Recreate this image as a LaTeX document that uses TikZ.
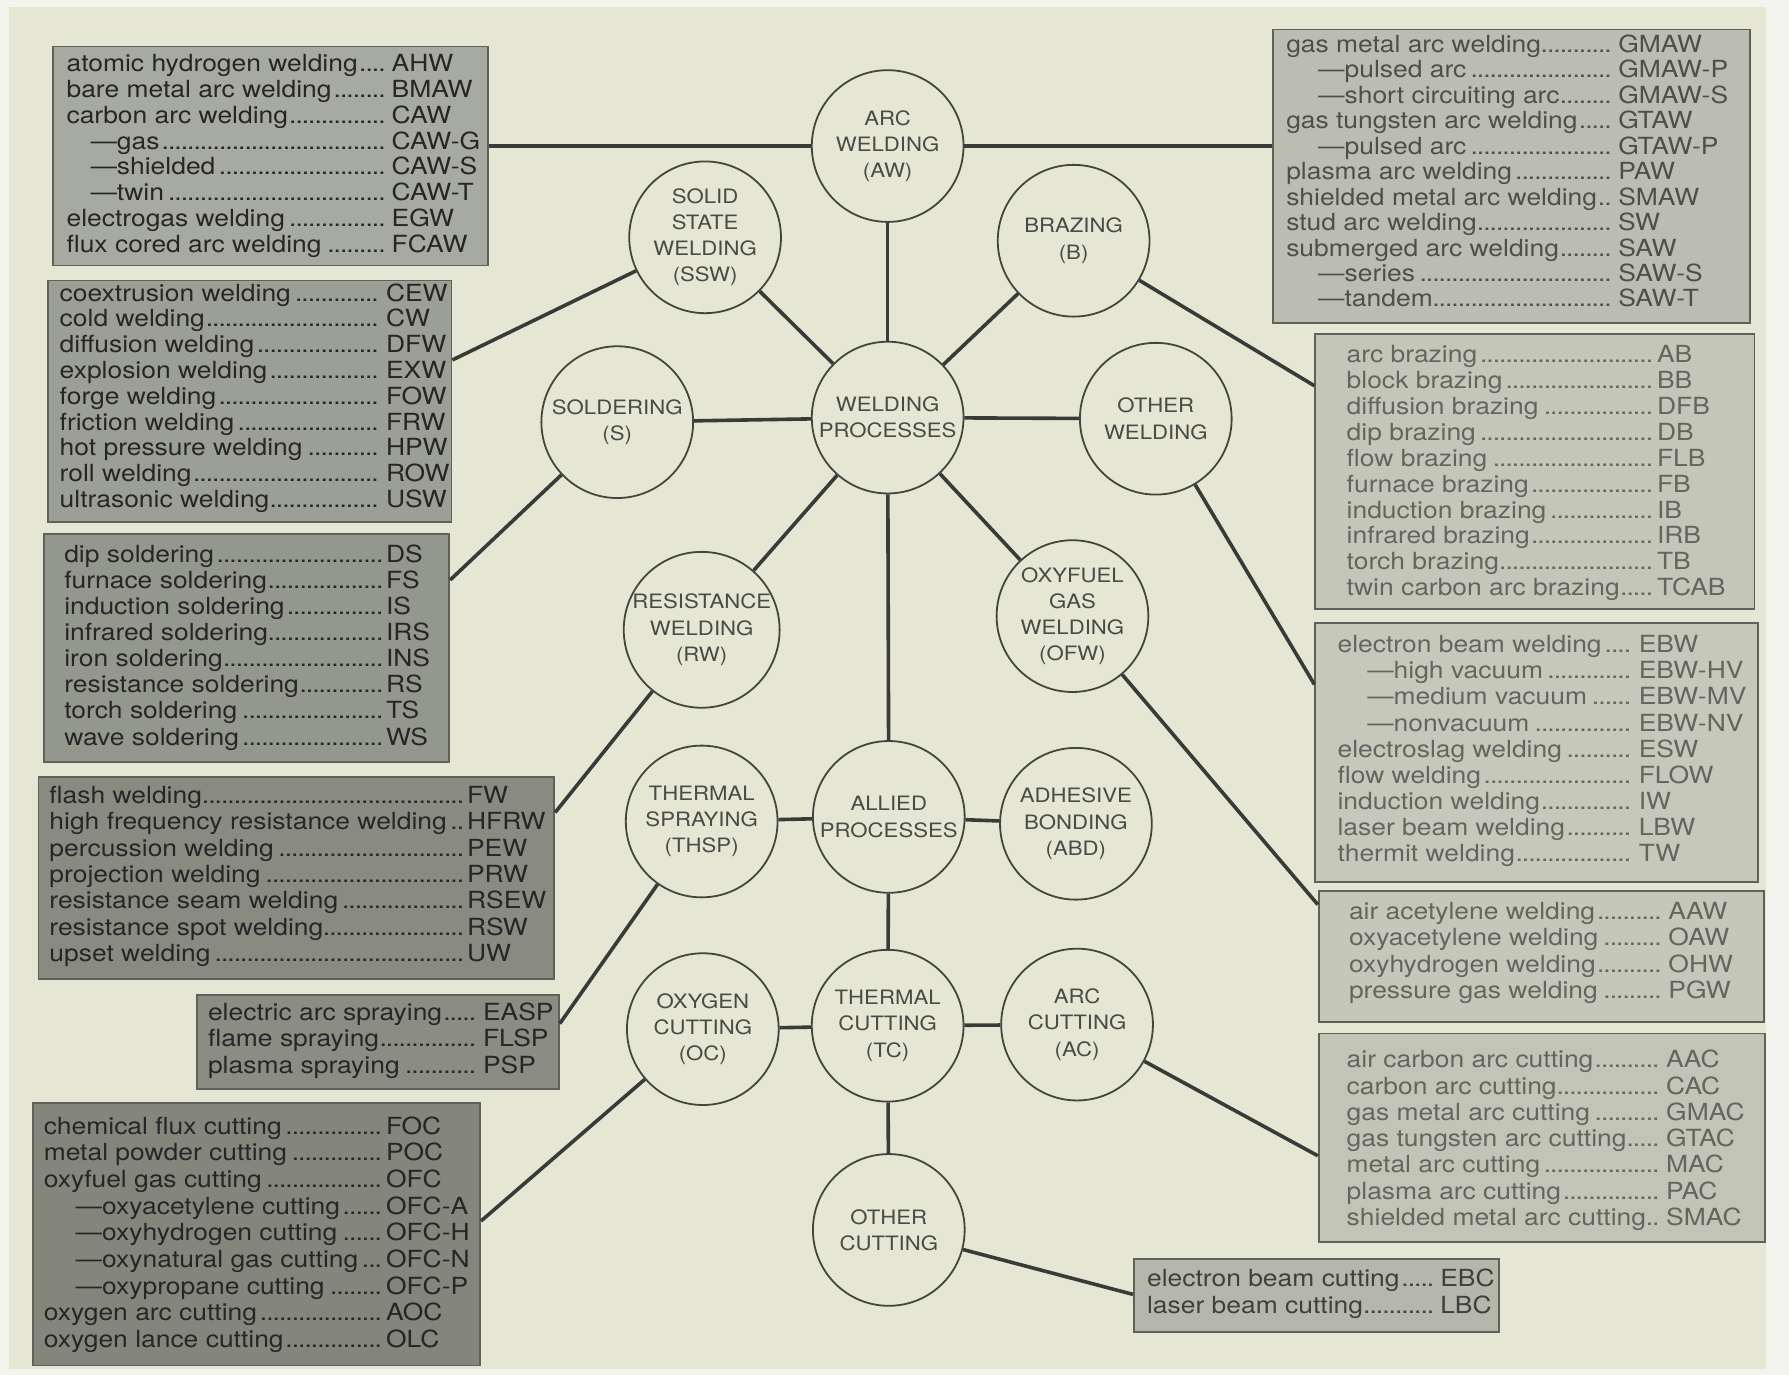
\documentclass[tikz,border=0pt]{standalone}
\usepackage{fontspec}
\setmainfont{TeX Gyre Heros}[FakeStretch=1.12]
\usetikzlibrary{calc}
\newlength\unitlen \setlength\unitlen{0.57047pt}
\newlength\entrywd
\newlength\indlen
\definecolor{outerc}{HTML}{F3F4EE}
\definecolor{pagec}{HTML}{E5E7D4}
\definecolor{linkc}{HTML}{3A3A38}
\definecolor{circline}{HTML}{45453F}
\definecolor{circtext}{HTML}{4A4A46}
\definecolor{boxline}{HTML}{5F615A}
\definecolor{fawl}{HTML}{A7AAA0}
\definecolor{fssb}{HTML}{9C9F95}
\definecolor{fsolb}{HTML}{94978C}
\definecolor{frwb}{HTML}{898B81}
\definecolor{fthb}{HTML}{8B8D83}
\definecolor{focb}{HTML}{84867B}
\definecolor{fawr}{HTML}{BBBDB0}
\definecolor{fbrb}{HTML}{C4C6B8}
\definecolor{fowb}{HTML}{C6C8BA}
\definecolor{fofb}{HTML}{C5C7B8}
\definecolor{facb}{HTML}{C2C4B5}
\definecolor{foctb}{HTML}{B5B7AA}
\definecolor{tdark}{HTML}{262626}
\definecolor{tawr}{HTML}{4E4F4A}
\definecolor{tlight}{HTML}{64655F}
\definecolor{toctb}{HTML}{3F403C}
\newcommand\mydots{\leaders\hbox to 0.27em{\hss.\hss}\hfill}
\newcommand\ind{\hspace*{\indlen}---}
\newcommand\rowfont{\fontsize{11.8}{13}\selectfont}
\newcommand\circfont{\fontsize{9.9}{13.1}\selectfont}
\newcommand\boxrows[8]{%
  \pgfmathsetlength{\entrywd}{(#3-#2)*\unitlen}%
  \setlength{\indlen}{#6\unitlen}%
  \foreach \nm/\ab [count=\i from 0] in {#8} {
    \node[row, text=#7] (#1-\i) at ({#2},{#4+6+\i*#5}) {\makebox[\entrywd][l]{\nm\mydots\kern1pt}\ab};
  }%
}
\tikzset{
  circ/.style={circle, draw=circline, line width=0.9pt, minimum size=133\unitlen,
    inner sep=0pt, align=center, text=circtext, font=\circfont},
  infobox/.style={draw=boxline, line width=0.9pt, anchor=north west, inner sep=0pt},
  row/.style={inner sep=0pt, anchor=base west, font=\rowfont},
  link/.style={draw=linkc, line width=1.8pt}
}
\begin{document}
\begin{tikzpicture}[x=\unitlen, y=-\unitlen]
\useasboundingbox (0,0) rectangle (1568,1205);
\fill[outerc] (0,0) rectangle (1568,1205);
\fill[pagec] (8,6) rectangle (1548,1200);

% boxes
\node[infobox, fill=fawl, minimum width=381\unitlen, minimum height=192\unitlen] (awl) at (46,40) {};
\node[infobox, fill=fssb, minimum width=354\unitlen, minimum height=212\unitlen] (ssb) at (41,245) {};
\node[infobox, fill=fsolb, minimum width=355\unitlen, minimum height=200\unitlen] (solb) at (38,467) {};
\node[infobox, fill=frwb, minimum width=452\unitlen, minimum height=177\unitlen] (rwb) at (33,680) {};
\node[infobox, fill=fthb, minimum width=317\unitlen, minimum height=83\unitlen] (thb) at (172,871) {};
\node[infobox, fill=focb, minimum width=392\unitlen, minimum height=230\unitlen] (ocb) at (28,966) {};
\node[infobox, fill=fawr, minimum width=418\unitlen, minimum height=257\unitlen] (awr) at (1115,25) {};
\node[infobox, fill=fbrb, minimum width=385\unitlen, minimum height=241\unitlen] (brb) at (1152,292) {};
\node[infobox, fill=fowb, minimum width=388\unitlen, minimum height=227\unitlen] (owb) at (1152,545) {};
\node[infobox, fill=fofb, minimum width=390\unitlen, minimum height=115\unitlen] (ofb) at (1155,780) {};
\node[infobox, fill=facb, minimum width=391\unitlen, minimum height=183\unitlen] (acb) at (1155,905) {};
\node[infobox, fill=foctb, minimum width=320\unitlen, minimum height=64\unitlen] (octb) at (993,1103) {};

% circles
\node[circ] (aw) at (778,128) {ARC\\WELDING\\(AW)};
\node[circ] (ssw) at (618,208) {SOLID\\STATE\\WELDING\\(SSW)};
\node[circ] (br) at (941,211) {BRAZING\\(B)};
\node[circ] (wp) at (778,366) {WELDING\\PROCESSES};
\node[circ] (sol) at (541,370) {SOLDERING\\(S)};
\node[circ] (ow) at (1013,367) {OTHER\\WELDING};
\node[circ] (rw) at (615,552) {RESISTANCE\\WELDING\\(RW)};
\node[circ] (ofw) at (940,540) {OXYFUEL\\GAS\\WELDING\\(OFW)};
\node[circ] (thsp) at (615,720) {THERMAL\\SPRAYING\\(THSP)};
\node[circ] (ap) at (779,716) {ALLIED\\PROCESSES};
\node[circ] (abd) at (943,722) {ADHESIVE\\BONDING\\(ABD)};
\node[circ] (oc) at (616,902) {OXYGEN\\CUTTING\\(OC)};
\node[circ] (tc) at (778,899) {THERMAL\\CUTTING\\(TC)};
\node[circ] (ac) at (944,898) {ARC\\CUTTING\\(AC)};
\node[circ] (octc) at (779,1078) {OTHER\\CUTTING};

% links between circles
\draw[link] (aw) -- (wp);
\draw[link] (ssw) -- (wp);
\draw[link] (br) -- (wp);
\draw[link] (sol) -- (wp);
\draw[link] (ow) -- (wp);
\draw[link] (rw) -- (wp);
\draw[link] (ofw) -- (wp);
\draw[link] (wp) -- (ap);
\draw[link] (thsp) -- (ap);
\draw[link] (abd) -- (ap);
\draw[link] (ap) -- (tc);
\draw[link] (oc) -- (tc);
\draw[link] (ac) -- (tc);
\draw[link] (tc) -- (octc);

% links to boxes
\draw[link] (awl.east |- aw) -- (aw);
\draw[link] (aw) -- (awr.west |- aw);
\draw[link] ($(ssb.north east)!0.33!(ssb.south east)$) -- (ssw);
\draw[link] ($(solb.north east)!0.205!(solb.south east)$) -- (sol);
\draw[link] ($(rwb.north east)!0.18!(rwb.south east)$) -- (rw);
\draw[link] ($(thb.north east)!0.31!(thb.south east)$) -- (thsp);
\draw[link] ($(ocb.north east)!0.45!(ocb.south east)$) -- (oc);
\draw[link] ($(brb.north west)!0.19!(brb.south west)$) -- (br);
\draw[link] ($(owb.north west)!0.24!(owb.south west)$) -- (ow);
\draw[link] ($(ofb.north west)!0.11!(ofb.south west)$) -- (ofw);
\draw[link] ($(acb.north west)!0.585!(acb.south west)$) -- (ac);
\draw[link] ($(octb.north west)!0.48!(octb.south west)$) -- (octc);

% box texts
\boxrows{awlt}{58}{343}{57}{22.57}{21}{tdark}{atomic hydrogen welding/AHW, bare metal arc welding/BMAW, carbon arc welding/CAW, \ind gas/CAW-G, \ind shielded/CAW-S, \ind twin/CAW-T, electrogas welding/EGW, flux cored arc welding/FCAW}
\boxrows{ssbt}{52}{338}{258}{22.6}{21}{tdark}{coextrusion welding/CEW, cold welding/CW, diffusion welding/DFW, explosion welding/EXW, forge welding/FOW, friction welding/FRW, hot pressure welding/HPW, roll welding/ROW, ultrasonic welding/USW}
\boxrows{solbt}{56}{338}{487}{22.86}{21}{tdark}{dip soldering/DS, furnace soldering/FS, induction soldering/IS, infrared soldering/IRS, iron soldering/INS, resistance soldering/RS, torch soldering/TS, wave soldering/WS}
\boxrows{rwbt}{43}{409}{698}{23.17}{21}{tdark}{flash welding/FW, high frequency resistance welding/HFRW, percussion welding/PEW, projection welding/PRW, resistance seam welding/RSEW, resistance spot welding/RSW, upset welding/UW}
\boxrows{thbt}{182}{423}{888}{23.5}{21}{tdark}{electric arc spraying/EASP, flame spraying/FLSP, plasma spraying/PSP}
\boxrows{ocbt}{38}{338}{988}{23.4}{28}{tdark}{chemical flux cutting/FOC, metal powder cutting/POC, oxyfuel gas cutting/OFC, \ind oxyacetylene cutting/OFC-A, \ind oxyhydrogen cutting/OFC-H, \ind oxynatural gas cutting/OFC-N, \ind oxypropane cutting/OFC-P, oxygen arc cutting/AOC, oxygen lance cutting/OLC}
\boxrows{awrt}{1127}{1418}{40}{22.3}{28}{tawr}{gas metal arc welding/GMAW, \ind pulsed arc/GMAW-P, \ind short circuiting arc/GMAW-S, gas tungsten arc welding/GTAW, \ind pulsed arc/GTAW-P, plasma arc welding/PAW, shielded metal arc welding/SMAW, stud arc welding/SW, submerged arc welding/SAW, \ind series/SAW-S, \ind tandem/SAW-T}
\boxrows{brbt}{1180}{1452}{312}{22.67}{26}{tlight}{arc brazing/AB, block brazing/BB, diffusion brazing/DFB, dip brazing/DB, flow brazing/FLB, furnace brazing/FB, induction brazing/IB, infrared brazing/IRB, torch brazing/TB, twin carbon arc brazing/TCAB}
\boxrows{owbt}{1172}{1436}{566}{22.9}{26}{tlight}{electron beam welding/EBW, \ind high vacuum/EBW-HV, \ind medium vacuum/EBW-MV, \ind nonvacuum/EBW-NV, electroslag welding/ESW, flow welding/FLOW, induction welding/IW, laser beam welding/LBW, thermit welding/TW}
\boxrows{ofbt}{1182}{1462}{800}{23}{26}{tlight}{air acetylene welding/AAW, oxyacetylene welding/OAW, oxyhydrogen welding/OHW, pressure gas welding/PGW}
\boxrows{acbt}{1180}{1460}{930}{23}{26}{tlight}{air carbon arc cutting/AAC, carbon arc cutting/CAC, gas metal arc cutting/GMAC, gas tungsten arc cutting/GTAC, metal arc cutting/MAC, plasma arc cutting/PAC, shielded metal arc cutting/SMAC}
\boxrows{octbt}{1005}{1262}{1122}{23}{26}{toctb}{electron beam cutting/EBC, laser beam cutting/LBC}
\end{tikzpicture}
\end{document}
